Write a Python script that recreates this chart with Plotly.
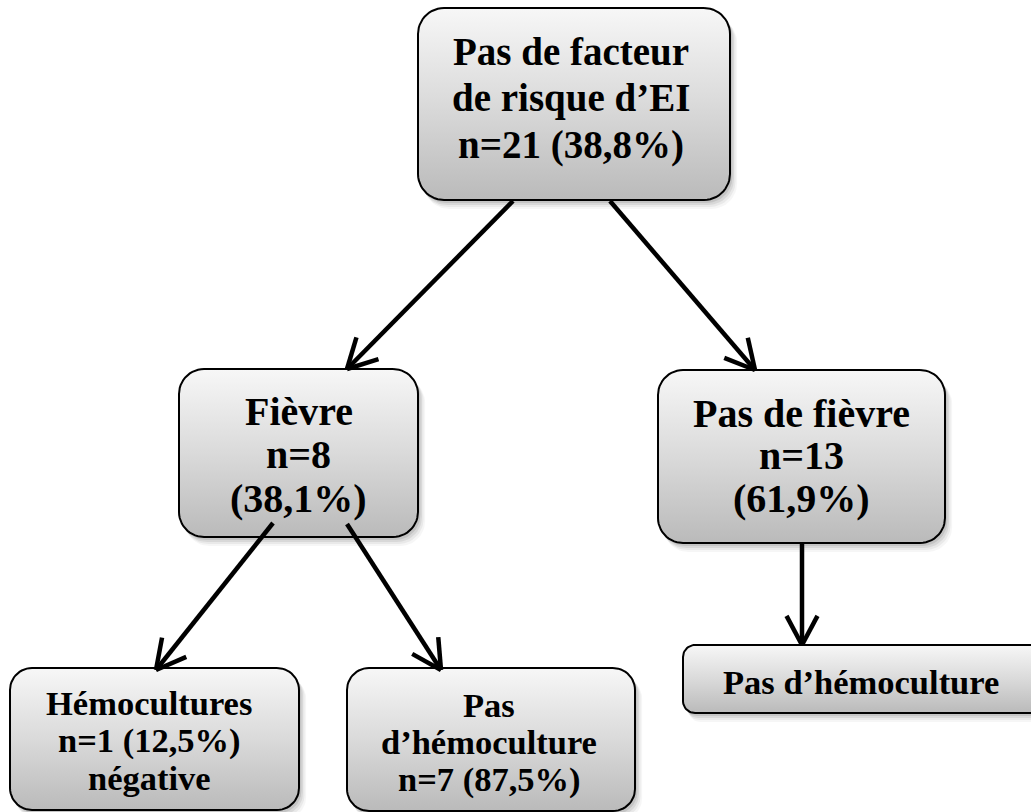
import numpy as np
import plotly.graph_objects as go

# ---- data (texts of the flow chart) ----
node_ids = ["root", "fievre", "pas_fievre", "hemo", "pas_hemo_f", "pas_hemo_nf"]
node_lines = [
    ["Pas de facteur", "de risque d\u2019EI", "n=21 (38,8%)"],
    ["Fi\u00e8vre", "n=8", "(38,1%)"],
    ["Pas de fi\u00e8vre", "n=13", "(61,9%)"],
    ["H\u00e9mocultures", "n=1 (12,5%)", "n\u00e9gative"],
    ["Pas", "d\u2019h\u00e9moculture", "n=7 (87,5%)"],
    ["Pas d\u2019h\u00e9moculture"],
]
edges = [("root", "fievre"), ("root", "pas_fievre"), ("fievre", "hemo"),
         ("fievre", "pas_hemo_f"), ("pas_fievre", "pas_hemo_nf")]

# ---- layout (pixel geometry of boxes: x0, x1, y0, y1, corner radius) ----
boxes = {
    "root": (418, 730, 8, 200, 26),
    "fievre": (179, 418, 369, 537, 25),
    "pas_fievre": (658, 945, 370, 543, 25),
    "hemo": (10, 299, 668, 810, 22),
    "pas_hemo_f": (347, 635, 668, 811, 22),
    "pas_hemo_nf": (683, 1045, 645, 713, 12),
}
# text: center x, list of baselines, font size
text_pos = {
    "root": (571, [63, 110, 157], 39),
    "fievre": (298.5, [423, 466, 510], 40),
    "pas_fievre": (801, [425, 467, 510], 40),
    "hemo": (149, [713, 751, 788], 34.5),
    "pas_hemo_f": (489, [715, 752, 790], 34.5),
    "pas_hemo_nf": (861, [692], 34.5),
}
# arrow start/end points
arrow_pts = {
    ("root", "fievre"): ((513, 201), (347, 369)),
    ("root", "pas_fievre"): ((610, 201), (755, 370)),
    ("fievre", "hemo"): ((273, 523), (156, 670)),
    ("fievre", "pas_hemo_f"): ((347, 524), (441, 670)),
    ("pas_fievre", "pas_hemo_nf"): ((802, 543), (802, 645)),
}

W, H = 1031, 812


def rrect(x0, x1, y0, y1, r):
    pts = []
    corners = [(x1 - r, y0 + r, -90, 0), (x1 - r, y1 - r, 0, 90),
               (x0 + r, y1 - r, 90, 180), (x0 + r, y0 + r, 180, 270)]
    for cx, cy, a0, a1 in corners:
        t = np.radians(np.linspace(a0, a1, 14))
        pts += [(cx + r * np.cos(a), cy + r * np.sin(a)) for a in t]
    pts.append(pts[0])
    xs, ys = zip(*pts)
    return list(xs), list(ys)


fig = go.Figure()

# soft shadows
for nid in node_ids:
    x0, x1, y0, y1, r = boxes[nid]
    for off, a in [(9, 0.035), (7, 0.05), (5, 0.07), (3, 0.09)]:
        xs, ys = rrect(x0 + off * 0.6, x1 + off * 0.8, y0 + off, y1 + off, r)
        fig.add_trace(go.Scatter(x=xs, y=ys, mode="lines", fill="toself",
                                 fillcolor=f"rgba(0,0,0,{a})", line=dict(width=0),
                                 hoverinfo="skip", showlegend=False))

# boxes with vertical gradient
for nid in node_ids:
    x0, x1, y0, y1, r = boxes[nid]
    xs, ys = rrect(x0, x1, y0, y1, r)
    fig.add_trace(go.Scatter(
        x=xs, y=ys, mode="lines", fill="toself",
        fillgradient=dict(type="vertical",
                          colorscale=[[0, "#bababa"], [0.5, "#dadada"], [1, "#f7f7f7"]]),
        line=dict(color="black", width=2), hoverinfo="skip", showlegend=False))

# arrows (open V heads)
for e in edges:
    (sx, sy), (ex, ey) = arrow_pts[e]
    d = np.array([ex - sx, ey - sy], float)
    d /= np.linalg.norm(d)
    L, ang = 33, np.radians(28)
    xs, ys = [sx, ex], [sy, ey]
    for s in (1, -1):
        c, si = np.cos(s * ang), np.sin(s * ang)
        rx = -(d[0] * c - d[1] * si)
        ry = -(d[0] * si + d[1] * c)
        xs += [None, ex + L * rx, ex]
        ys += [None, ey + L * ry, ey]
    fig.add_trace(go.Scatter(x=xs, y=ys, mode="lines",
                             line=dict(color="black", width=4.5),
                             hoverinfo="skip", showlegend=False))

# texts (one annotation per line for tight Word-like spacing)
for nid, lines in zip(node_ids, node_lines):
    tx, baselines, fs = text_pos[nid]
    for txt, bl in zip(lines, baselines):
        fig.add_annotation(x=tx, y=bl - 0.3 * fs, text=f"<b>{txt}</b>", showarrow=False,
                           font=dict(family="Liberation Serif", size=fs, color="black"),
                           xanchor="center", yanchor="middle", align="center")

fig.update_xaxes(range=[0, W], visible=False, fixedrange=True)
fig.update_yaxes(range=[H, 0], visible=False, fixedrange=True)
fig.update_layout(width=W, height=H, margin=dict(l=0, r=0, t=0, b=0),
                  plot_bgcolor="white", paper_bgcolor="white")

fig.write_html("out.html", config={"displayModeBar": False},
               post_script="document.body.style.margin='0';")
